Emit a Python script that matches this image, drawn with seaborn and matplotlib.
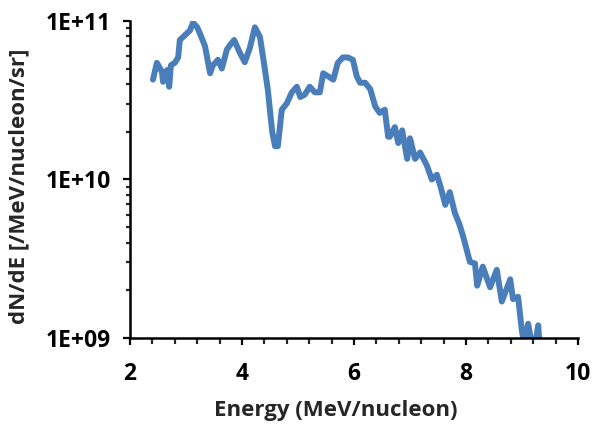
import numpy as np
import pandas as pd
import matplotlib
matplotlib.use("Agg")
import matplotlib.pyplot as plt
import seaborn as sns
from matplotlib.ticker import FixedLocator, MultipleLocator, LogLocator, NullFormatter

energy = [2.41, 2.48, 2.57, 2.59, 2.66, 2.70, 2.73, 2.80, 2.86, 2.89, 2.98, 3.07, 3.125, 3.20, 3.25, 3.34,
          3.43, 3.48, 3.57, 3.64, 3.73, 3.79, 3.86, 3.91, 3.96, 4.05, 4.14, 4.23, 4.32, 4.39, 4.46,
          4.54, 4.59, 4.64, 4.71, 4.80, 4.89, 4.98, 5.04, 5.12, 5.21, 5.30, 5.39, 5.45, 5.54, 5.63,
          5.71, 5.80, 5.89, 5.98, 6.05, 6.11, 6.20, 6.29, 6.38, 6.46, 6.55, 6.61,
          6.64, 6.73, 6.79, 6.86, 6.95, 7.00, 7.09, 7.18, 7.30, 7.39, 7.48, 7.55, 7.63, 7.71, 7.80, 7.88,
          7.95, 8.07, 8.16, 8.20, 8.30, 8.43, 8.55, 8.64, 8.79, 8.84, 8.93, 9.00, 9.04, 9.11, 9.17, 9.24,
          9.29, 9.31]
log_flux = [10.63, 10.736, 10.68, 10.616, 10.69, 10.585, 10.72, 10.736, 10.77, 10.88, 10.91, 10.94, 10.99, 10.96, 10.92, 10.84,
            10.67, 10.72, 10.755, 10.70, 10.82, 10.85, 10.88, 10.84, 10.80, 10.74, 10.83, 10.96, 10.90, 10.74, 10.57,
            10.30, 10.21, 10.21, 10.44, 10.48, 10.55, 10.585, 10.52, 10.535, 10.585, 10.55, 10.55, 10.67, 10.65, 10.63,
            10.735, 10.77, 10.77, 10.755, 10.65, 10.61, 10.61, 10.57, 10.46, 10.42, 10.44, 10.27,
            10.27, 10.33, 10.23, 10.31, 10.13, 10.26, 10.13, 10.17, 10.09, 10.00, 10.03, 9.95, 9.84, 9.92, 9.79, 9.72,
            9.64, 9.48, 9.47, 9.33, 9.45, 9.32, 9.43, 9.23, 9.37, 9.245, 9.26, 9.04, 8.97, 9.09, 8.97, 8.97,
            9.08, 8.97]
flux = [10 ** v for v in log_flux]

df = pd.DataFrame({"Energy": energy, "Flux": flux})

sns.set_style("ticks")
plt.rcParams['font.family'] = ['Open Sans', 'DejaVu Sans']

fig = plt.figure(figsize=(5.95, 4.28), dpi=100)
ax = fig.add_axes([0.2185, 0.2103, 0.7529, 0.7407])

sns.lineplot(data=df, x="Energy", y="Flux", ax=ax, color="#4A7EBB", linewidth=4.3,
             solid_joinstyle="round", solid_capstyle="round")

ax.set_yscale("log")
ax.set_xlim(2, 10)
ax.set_ylim(1e9, 1e11)
ax.set_xticks([2, 4, 6, 8, 10])
ax.xaxis.set_minor_locator(MultipleLocator(0.4))
ax.yaxis.set_major_locator(FixedLocator([1e9, 1e10, 1e11]))
ax.yaxis.set_minor_locator(LogLocator(base=10, subs=np.arange(2, 10)))
ax.yaxis.set_minor_formatter(NullFormatter())
ax.set_yticklabels(["1E+09", "1E+10", "1E+11"])

for s in ["top", "right"]:
    ax.spines[s].set_visible(False)
for s in ["left", "bottom"]:
    ax.spines[s].set_linewidth(1.8)
    ax.spines[s].set_color("black")

ax.tick_params(axis="both", which="major", direction="out", length=5, width=1.6,
               labelsize=16.5, colors="black")
ax.tick_params(axis="x", which="major", pad=12)
ax.tick_params(axis="y", which="major", pad=9)
ax.tick_params(axis="x", which="minor", direction="out", length=4, width=1.6)
ax.tick_params(axis="y", which="minor", direction="out", length=3, width=1.6)
for lab in ax.get_xticklabels() + ax.get_yticklabels():
    lab.set_fontweight("bold")

ax.set_xlabel("Energy (MeV/nucleon)", fontsize=16, fontweight="bold")
ax.set_ylabel("dN/dE [/MeV/nucleon/sr]", fontsize=16, fontweight="bold")
ax.xaxis.set_label_coords(0.46, -0.197)
ax.yaxis.set_label_coords(-0.225, 0.48)
ax.grid(False)

fig.savefig("out.png", dpi=100)
